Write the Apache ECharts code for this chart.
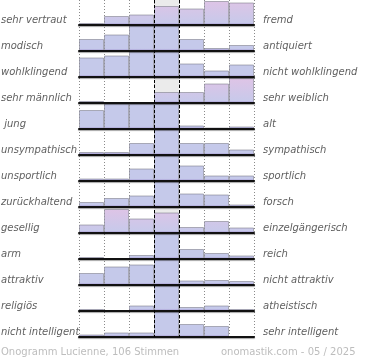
<!DOCTYPE html>
<html><head><meta charset="utf-8">
<script src="https://cdn.jsdelivr.net/npm/echarts@6/dist/echarts.min.js"></script>
<style>html,body{margin:0;padding:0;background:#fff}#c{width:370px;height:360px}</style>
</head><body><div id="c"></div>
<script>
const categories = ['-3', '-2', '-1', '0', '1', '2', '3'];
const leftLabels = ['sehr vertraut', 'modisch', 'wohlklingend', 'sehr männlich', ' jung', 'unsympathisch', 'unsportlich', 'zurückhaltend', 'gesellig', 'arm', 'attraktiv', 'religiös', 'nicht intelligent'];
const rightLabels = ['fremd', 'antiquiert', 'nicht wohlklingend', 'sehr weiblich', 'alt', 'sympathisch', 'sportlich', 'forsch', 'einzelgängerisch', 'reich', 'nicht attraktiv', 'atheistisch', 'sehr intelligent'];

const vertraut       = [2, 9, 10.5, 19, 16.5, 24, 22.5];
const modisch        = [12, 16.5, 27, 26, 12, 3, 6];
const wohlklingend   = [19.5, 21.5, 30, 28, 13.5, 6.5, 12.5];
const maennlich      = [2, 0, 0, 11, 11, 19.5, 25];
const jung           = [19, 27, 26, 28, 3.5, 1.5, 2.5];
const unsympathisch  = [3, 3, 12, 52, 12, 12, 5.5];
const unsportlich    = [2.5, 2.5, 12.5, 56, 15.5, 5.5, 5.5];
const zurueckhaltend = [5, 9, 11.5, 48, 13.5, 12.5, 2.5];
const gesellig       = [8.5, 24, 14.5, 20.5, 6, 12, 5.5];
const arm            = [2, 0, 4, 74, 10, 6, 3.5];
const attraktiv      = [12, 18.5, 20.5, 36, 4.5, 5, 4];
const religioes      = [2, 1, 5.5, 80, 4, 5.5, 2];
const intelligent    = [2.5, 4.5, 4.5, 64, 13, 11, 0];

const footerLeft = 'Onogramm Lucienne, 106 Stimmen';
const footerRight = 'onomastik.com - 05 / 2025';

const rows = [vertraut, modisch, wohlklingend, maennlich, jung, unsympathisch, unsportlich, zurueckhaltend, gesellig, arm, attraktiv, religioes, intelligent];

const CAP = 25, ROW = 26, LEFT = 79, WIDTH = 175;
const BLUE = [197, 201, 234], PINK = [223, 196, 230], PURPLE = [160, 145, 206];
function mix(a, b, t) { return 'rgb(' + a.map((v, i) => Math.round(v + (b[i] - v) * t)).join(',') + ')'; }

const grids = [], xAxes = [], yAxes = [], series = [], graphics = [];
rows.forEach((vals, i) => {
  const top = ROW * i;
  const base = top + CAP;
  grids.push({ left: LEFT, top: top, width: WIDTH, height: CAP });
  xAxes.push({
    type: 'category', gridIndex: i, data: categories, boundaryGap: true, z: 5,
    axisLine: { show: true, lineStyle: { color: '#111', width: 2, shadowColor: 'rgba(0,0,0,0.35)', shadowOffsetY: 1, shadowBlur: 1 } },
    axisTick: { show: false }, axisLabel: { show: false }, splitLine: { show: false }
  });
  yAxes.push({ type: 'value', gridIndex: i, min: 0, max: CAP, show: false, splitLine: { show: false } });
  const fits = Math.max(...vals) <= CAP;
  series.push({
    type: 'bar', xAxisIndex: i, yAxisIndex: i, barCategoryGap: '0%', clip: true, z: 2,
    itemStyle: { borderColor: 'rgba(128,128,140,0.6)', borderWidth: 1 },
    data: vals.map(v => {
      const h = Math.min(v, CAP);
      const tTop = fits ? h / CAP : 0;
      const off = h > 3 ? 1 - 2.5 / h : 0;
      return {
        value: v,
        itemStyle: {
          color: {
            type: 'linear', x: 0, y: 0, x2: 0, y2: 1,
            colorStops: [
              { offset: 0, color: mix(BLUE, PINK, tTop) },
              { offset: off, color: mix(BLUE, PINK, fits ? Math.min(2.5, h) / CAP : 0) },
              { offset: 1, color: mix(PURPLE, PURPLE, 0) }
            ]
          }
        }
      };
    })
  });
  graphics.push({ type: 'text', x: 1, y: base - 4.5, style: { text: leftLabels[i], font: 'italic 10px "DejaVu Sans"', fill: '#606060', align: 'left', verticalAlign: 'middle' } });
  graphics.push({ type: 'text', x: 263, y: base - 4.5, style: { text: rightLabels[i], font: 'italic 10px "DejaVu Sans"', fill: '#606060', align: 'left', verticalAlign: 'middle' } });
});

const nRows = rows.length;
const fullH = ROW * (nRows - 1) + CAP;
// dotted grid lines spanning all rows
grids.push({ left: LEFT, top: 0, width: WIDTH, height: fullH });
xAxes.push({ type: 'value', gridIndex: nRows, min: 0, max: 7, interval: 1, z: 0,
  axisLine: { show: false }, axisTick: { show: false }, axisLabel: { show: false },
  splitLine: { show: true, lineStyle: { color: '#8a8a8a', width: 1, type: [1, 2] } } });
yAxes.push({ type: 'value', gridIndex: nRows, min: 0, max: 1, show: false, splitLine: { show: false } });
// centre column: grey background + dashed black borders
grids.push({ left: LEFT + 3 * WIDTH / 7, top: 0, width: WIDTH / 7, height: fullH, show: true, backgroundColor: '#ebebeb', borderWidth: 0 });
xAxes.push({ type: 'value', gridIndex: nRows + 1, min: 0, max: 1, interval: 1, z: 10,
  axisLine: { show: false }, axisTick: { show: false }, axisLabel: { show: false },
  splitLine: { show: true, lineStyle: { color: '#000', width: 1, type: [3, 2] } } });
yAxes.push({ type: 'value', gridIndex: nRows + 1, min: 0, max: 1, show: false, splitLine: { show: false } });

graphics.push({ type: 'text', x: 1, y: 352.5, style: { text: footerLeft, font: '10px "DejaVu Sans"', fill: '#bdbdbd', align: 'left', verticalAlign: 'middle' } });
graphics.push({ type: 'text', x: 221, y: 352.5, style: { text: footerRight, font: '10px "DejaVu Sans"', fill: '#bdbdbd', align: 'left', verticalAlign: 'middle' } });

const chart = echarts.init(document.getElementById('c'), null, { renderer: 'canvas' });
chart.setOption({
  animation: false,
  backgroundColor: '#fff',
  grid: grids, xAxis: xAxes, yAxis: yAxes, series: series,
  graphic: graphics
});
</script></body></html>
